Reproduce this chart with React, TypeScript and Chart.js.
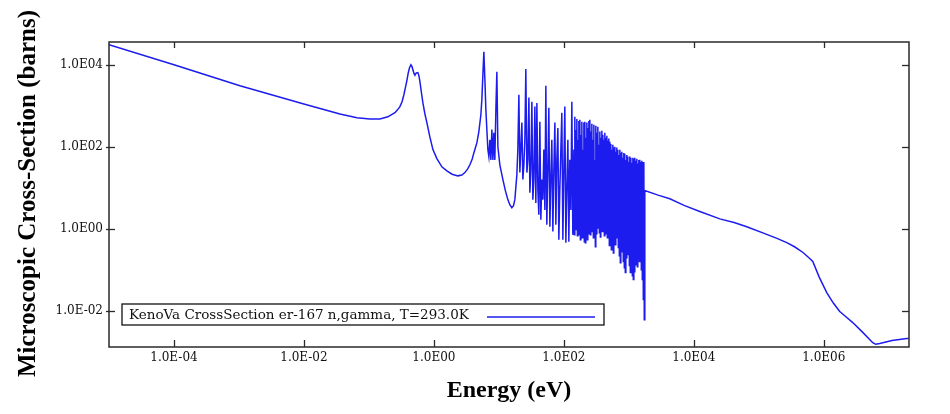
import React, { useEffect, useRef } from "react";
import { Chart, registerables } from "chart.js";

Chart.register(...registerables);

// ---- axis definitions ----
const xTickValues = [1e-4, 1e-2, 1, 1e2, 1e4, 1e6];
const xTickLabels = ["1.0E-04", "1.0E-02", "1.0E00", "1.0E02", "1.0E04", "1.0E06"];
const yTickValues = [1e-2, 1, 1e2, 1e4];
const yTickLabels = ["1.0E-02", "1.0E00", "1.0E02", "1.0E04"];
const xRange = [1e-5, 2.05e7];
const yRange = [1.3e-3, 3.6e4];

const xTitle = "Energy (eV)";
const yTitle = "Microscopic Cross-Section (barns)";
const seriesLabel = "KenoVa CrossSection er-167 n,gamma, T=293.0K";

// ---- data: [log10 E (eV), log10 sigma (barns)] ----
const thermalRegion: [number, number][] = [
  [-5.0, 4.49], [-4.0, 4.0], [-2.985, 3.49], [-2.015, 3.05], [-1.446, 2.8],
  [-1.185, 2.71], [-0.985, 2.68], [-0.831, 2.68], [-0.708, 2.73], [-0.6, 2.83],
  [-0.56, 2.9], [-0.523, 2.98], [-0.49, 3.1], [-0.462, 3.27], [-0.44, 3.43],
  [-0.415, 3.62], [-0.395, 3.8], [-0.375, 3.93], [-0.354, 4.0], [-0.338, 3.96],
  [-0.323, 3.88], [-0.305, 3.78], [-0.292, 3.76], [-0.27, 3.8], [-0.246, 3.81],
  [-0.23, 3.73], [-0.215, 3.59], [-0.19, 3.3], [-0.169, 3.07], [-0.138, 2.8],
  [-0.108, 2.59], [-0.062, 2.24], [-0.015, 1.93], [0.046, 1.71], [0.123, 1.51],
  [0.2, 1.41], [0.28, 1.33], [0.369, 1.29], [0.43, 1.31], [0.477, 1.37],
  [0.52, 1.46], [0.554, 1.56], [0.59, 1.7], [0.615, 1.85], [0.64, 1.98],
  [0.662, 2.1], [0.692, 2.37], [0.723, 2.78], [0.738, 3.15], [0.754, 3.76],
  [0.769, 4.32], [0.785, 3.63], [0.8, 2.9], [0.815, 2.42], [0.831, 1.93],
  [0.846, 1.76], [0.862, 2.17], [0.877, 1.68], [0.892, 2.42], [0.908, 1.68],
  [0.923, 2.34], [0.938, 1.68], [0.954, 2.9], [0.969, 3.83], [0.985, 2.0],
  [1.015, 1.56], [1.062, 1.2], [1.1, 0.93], [1.138, 0.71], [1.17, 0.58],
  [1.2, 0.51], [1.225, 0.56], [1.246, 0.71],
];

const resolvedRegion: [number, number][] = [
  [1.277, 1.32], [1.292, 1.93], [1.308, 3.27], [1.323, 1.37], [1.338, 1.93],
  [1.354, 2.59], [1.369, 1.2], [1.385, 1.56], [1.4, 2.17], [1.415, 3.9],
  [1.431, 1.37], [1.446, 1.68], [1.462, 3.2], [1.477, 0.88], [1.492, 1.44],
  [1.508, 3.1], [1.523, 0.71], [1.538, 1.2], [1.554, 2.98], [1.569, 0.63],
  [1.585, 3.07], [1.6, 0.95], [1.615, 0.34], [1.631, 2.61], [1.646, 0.22],
  [1.662, 1.2], [1.677, 0.71], [1.692, 1.93], [1.708, 0.46], [1.723, 3.49],
  [1.738, 0.1], [1.754, 1.44], [1.769, 2.95], [1.785, 0.05], [1.8, 1.2],
  [1.815, 2.17], [1.831, -0.07], [1.846, 1.44], [1.862, 2.59], [1.877, 0.1],
  [1.892, 1.68], [1.908, 2.46], [1.923, -0.27], [1.938, 0.95], [1.954, 1.93],
  [1.969, 2.83], [1.985, -0.27], [2.0, 1.44], [2.015, 2.98], [2.031, -0.34],
  [2.046, 0.95], [2.062, 2.17], [2.077, -0.32], [2.092, 1.68], [2.108, 0.46],
  [2.123, 3.1], [2.138, -0.15],
];

const denseRegion: [number, number][] = [
  [2.154, 1.93], [2.162, -0.15], [2.169, 2.73], [2.177, -0.02], [2.185, 2.41], [2.192, 0.02],
  [2.2, 2.68], [2.208, -0.17], [2.215, 2.17], [2.223, -0.15], [2.231, 2.63], [2.238, 0.1],
  [2.246, 2.66], [2.254, -0.27], [2.262, 2.29], [2.269, -0.07], [2.277, 2.61], [2.285, -0.22],
  [2.292, 1.93], [2.3, -0.17], [2.308, 2.59], [2.315, -0.32], [2.323, 2.61], [2.331, -0.34],
  [2.338, 2.22], [2.346, -0.02], [2.354, 2.59], [2.362, -0.27], [2.369, 2.46], [2.377, 0.07],
  [2.385, 2.63], [2.392, -0.12], [2.4, 2.66], [2.408, -0.15], [2.415, 2.37], [2.423, 0.02],
  [2.431, 2.56], [2.438, -0.07], [2.446, 2.17], [2.454, -0.22], [2.462, 2.54], [2.469, -0.02],
  [2.477, 1.68], [2.485, -0.44], [2.492, 2.51], [2.5, -0.12], [2.508, 2.34], [2.515, 0.02],
  [2.523, 2.49], [2.531, 0.05], [2.538, 2.05], [2.546, -0.1], [2.554, 2.37], [2.562, -0.2],
  [2.569, 2.22], [2.577, 0.07], [2.585, 2.39], [2.592, -0.07], [2.6, 2.29], [2.608, -0.02],
  [2.615, 2.17], [2.623, -0.17], [2.631, 2.34], [2.638, 0.15], [2.646, 2.22], [2.654, -0.12],
  [2.662, 2.27], [2.669, -0.22], [2.677, 2.15], [2.685, -0.15], [2.692, 2.2], [2.7, -0.41],
  [2.708, 2.12], [2.715, -0.27], [2.723, 2.07], [2.731, -0.51], [2.738, 1.93], [2.746, -0.37],
  [2.754, 2.05], [2.762, -0.59], [2.769, 1.98], [2.777, -0.29], [2.785, 2.0], [2.792, -0.39],
  [2.8, 1.88], [2.808, -0.22], [2.815, 1.98], [2.823, -0.2], [2.831, 1.93], [2.838, -0.46],
  [2.846, 1.8], [2.854, -0.66], [2.862, 1.93], [2.869, -0.83], [2.877, 1.85], [2.885, -0.56],
  [2.892, 1.88], [2.9, -0.51], [2.908, 1.73], [2.915, -0.8], [2.923, 1.85], [2.931, -0.95],
  [2.938, 1.83], [2.946, -1.07], [2.954, 1.68], [2.962, -0.71], [2.969, 1.8], [2.977, -0.63],
  [2.985, 1.76], [2.992, -0.59], [3.0, 1.63], [3.008, -0.9], [3.015, 1.76], [3.023, -1.07],
  [3.031, 1.73], [3.038, -1.0], [3.046, 1.61], [3.054, -1.15], [3.062, 1.73], [3.069, -1.24],
  [3.077, 1.71], [3.085, -1.05], [3.092, 1.73], [3.1, -0.88], [3.108, 1.66], [3.115, -0.8],
  [3.123, 1.71], [3.131, -0.93], [3.138, 1.59], [3.146, -0.71], [3.154, 1.68], [3.162, -0.8],
  [3.169, 1.68], [3.177, -0.76], [3.185, 1.63], [3.192, -1.0], [3.2, 1.66], [3.208, -1.24],
  [3.215, 1.63], [3.223, -1.73], [3.231, 1.63], [3.238, -2.22],
];

const fastRegion: [number, number][] = [
  [3.246, 0.93], [3.45, 0.82], [3.631, 0.73], [3.85, 0.57], [4.092, 0.42],
  [4.4, 0.24], [4.62, 0.15], [4.815, 0.05], [5.092, -0.12], [5.27, -0.23],
  [5.431, -0.34], [5.55, -0.44], [5.68, -0.58], [5.78, -0.72], [5.831, -0.8],
  [5.93, -1.18], [6.046, -1.56], [6.15, -1.82], [6.246, -2.02], [6.35, -2.16],
  [6.446, -2.29], [6.6, -2.53], [6.754, -2.78], [6.8, -2.82], [6.862, -2.8],
  [7.05, -2.73], [7.277, -2.68], [7.308, -2.68],
];

const lineColor = "rgb(28,28,238)";

const decorPlugin = {
  id: "decor",
  afterDraw(chart: any) {
    const { ctx, chartArea: a, scales } = chart;
    ctx.save();
    // frame
    ctx.strokeStyle = "#2a2a2a";
    ctx.lineWidth = 1.5;
    ctx.strokeRect(a.left, a.top, a.right - a.left, a.bottom - a.top);
    // inward tick marks
    ctx.lineWidth = 1.3;
    const seg = (x1: number, y1: number, x2: number, y2: number) => {
      ctx.beginPath();
      ctx.moveTo(x1, y1);
      ctx.lineTo(x2, y2);
      ctx.stroke();
    };
    xTickValues.forEach((v) => {
      const px = Math.round(scales.x.getPixelForValue(v)) + 0.5;
      seg(px, a.bottom, px, a.bottom - 7);
      seg(px, a.top, px, a.top + 6);
    });
    yTickValues.forEach((v) => {
      const py = Math.round(scales.y.getPixelForValue(v)) + 0.5;
      seg(a.left - 3, py, a.left + 6, py);
      seg(a.right, py, a.right - 7, py);
    });
    // legend box
    const bx = a.left + 13;
    const by = a.bottom - 43;
    const bw = 482;
    const bh = 21;
    ctx.fillStyle = "#ffffff";
    ctx.fillRect(bx, by, bw, bh);
    ctx.strokeStyle = "#111";
    ctx.lineWidth = 1.3;
    ctx.strokeRect(bx, by, bw, bh);
    ctx.fillStyle = "#111";
    ctx.font = "13.5px 'DejaVu Serif'";
    ctx.textAlign = "left";
    ctx.textBaseline = "middle";
    ctx.fillText(seriesLabel, bx + 7, by + bh / 2 + 1);
    ctx.strokeStyle = lineColor;
    ctx.lineWidth = 1.3;
    seg(bx + 365, by + 13, bx + 473, by + 13);
    // axis titles
    ctx.fillStyle = "#000";
    ctx.font = "bold 24px 'Liberation Serif'";
    ctx.textAlign = "center";
    ctx.textBaseline = "middle";
    ctx.fillText(xTitle, (a.left + a.right) / 2, 391);
    ctx.save();
    ctx.translate(29, (a.top + a.bottom) / 2 - 1);
    ctx.rotate(-Math.PI / 2);
    ctx.font = "bold 25px 'Liberation Serif'";
    ctx.fillText(yTitle, 0, 0);
    ctx.restore();
    ctx.restore();
  },
};

export default function App() {
  const canvasRef = useRef<HTMLCanvasElement | null>(null);

  useEffect(() => {
    const canvas = canvasRef.current;
    if (!canvas) return;
    const all = [...thermalRegion, ...resolvedRegion, ...denseRegion, ...fastRegion];
    const points = all.map(([le, ls]) => ({ x: Math.pow(10, le), y: Math.pow(10, ls) }));

    const chart = new Chart(canvas, {
      type: "line",
      data: {
        datasets: [
          {
            label: seriesLabel,
            data: points,
            borderColor: lineColor,
            borderWidth: 1.5,
            pointRadius: 0,
            tension: 0,
            fill: false,
          },
        ],
      },
      options: {
        responsive: false,
        animation: false,
        devicePixelRatio: 1,
        layout: { padding: { left: 0, top: 42, right: 41, bottom: 0 } },
        plugins: {
          legend: { display: false },
          tooltip: { enabled: false },
          title: { display: false },
        },
        scales: {
          x: {
            type: "logarithmic",
            min: xRange[0],
            max: xRange[1],
            bounds: "data",
            grid: { display: false, drawTicks: false },
            border: { display: false },
            afterBuildTicks: (s: any) => {
              s.ticks = xTickValues.map((v) => ({ value: v }));
            },
            afterFit: (s: any) => {
              s.height = 67;
            },
            ticks: {
              autoSkip: false,
              maxRotation: 0,
              padding: 4,
              color: "#111",
              font: { family: "'DejaVu Serif'", size: 12 },
              callback: (v: any) => {
                const i = xTickValues.findIndex((t) => Math.abs(Math.log10(t) - Math.log10(Number(v))) < 1e-6);
                return i >= 0 ? xTickLabels[i] : "";
              },
            },
          },
          y: {
            type: "logarithmic",
            min: yRange[0],
            max: yRange[1],
            bounds: "data",
            grid: { display: false, drawTicks: false },
            border: { display: false },
            afterBuildTicks: (s: any) => {
              s.ticks = yTickValues.map((v) => ({ value: v }));
            },
            afterFit: (s: any) => {
              s.width = 109;
            },
            ticks: {
              autoSkip: false,
              padding: 6,
              color: "#111",
              font: { family: "'DejaVu Serif'", size: 12 },
              callback: (v: any) => {
                const i = yTickValues.findIndex((t) => Math.abs(Math.log10(t) - Math.log10(Number(v))) < 1e-6);
                return i >= 0 ? yTickLabels[i] : "";
              },
            },
          },
        },
      },
      plugins: [decorPlugin],
    });

    return () => chart.destroy();
  }, []);

  return (
    <div style={{ position: "absolute", left: 0, top: 0, width: 950, height: 414, background: "#fff" }}>
      <canvas ref={canvasRef} width={950} height={414} style={{ display: "block" }} />
    </div>
  );
}
